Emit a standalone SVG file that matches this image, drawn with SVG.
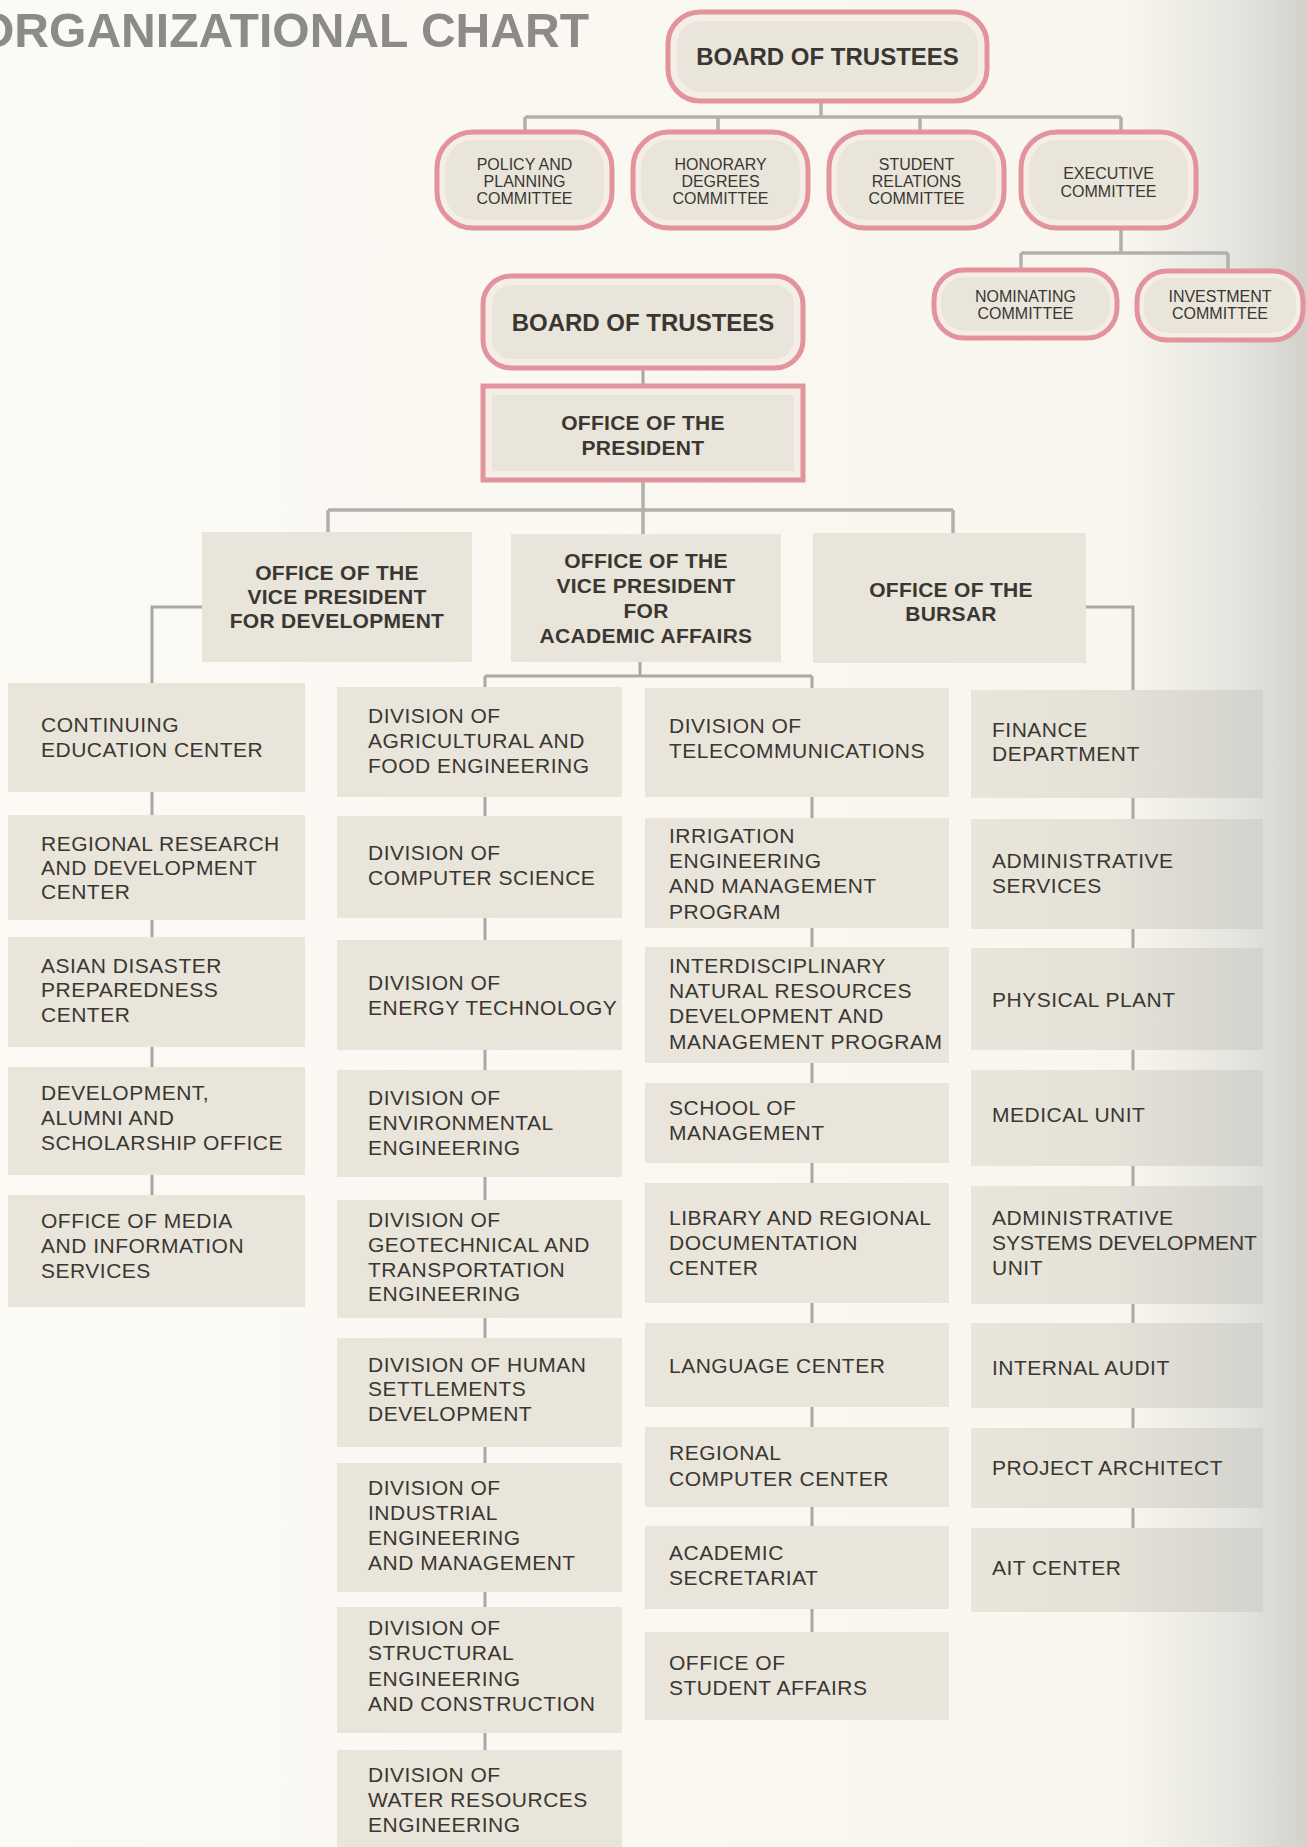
<svg xmlns="http://www.w3.org/2000/svg" width="1307" height="1847" viewBox="0 0 1307 1847">
<defs>
<style>
.bg{fill:url(#bgGrad)}
.box{fill:#e9e5da}
.box4{fill:url(#col4Grad)}
.pkOut{fill:#f5eee8;stroke:#e3939b;stroke-width:5}
.pkIn{fill:#e9e5da}
.ln{stroke:#a9a8a4;stroke-width:3;fill:none}
.lnT{stroke:#b2b0ab;stroke-width:3.5;fill:none}
.t{font-family:"Liberation Sans",Arial,Helvetica,sans-serif;font-size:21px;letter-spacing:0.5px;fill:#3a3733}
.tb{font-family:"Liberation Sans",Arial,Helvetica,sans-serif;font-size:21px;letter-spacing:0.3px;font-weight:bold;fill:#3a3733;text-anchor:middle}
.tbig{font-family:"Liberation Sans",Arial,Helvetica,sans-serif;font-size:24px;font-weight:bold;fill:#3a3733;text-anchor:middle}
.tc{font-family:"Liberation Sans",Arial,Helvetica,sans-serif;font-size:16px;fill:#3a3733;text-anchor:middle}
.title{font-family:"Liberation Sans",Arial,Helvetica,sans-serif;font-size:48px;font-weight:bold;fill:#8c8b88}
</style>
<linearGradient id="bgGrad" x1="0" y1="0" x2="1" y2="0">
<stop offset="0" stop-color="#fcfaf4"/>
<stop offset="0.86" stop-color="#f8f6ef"/>
<stop offset="0.95" stop-color="#e4e3dd"/>
<stop offset="1" stop-color="#d2d1cc"/>
</linearGradient>
<linearGradient id="col4Grad" x1="0" y1="0" x2="1" y2="0">
<stop offset="0" stop-color="#e9e5da"/>
<stop offset="0.5" stop-color="#e4e1d7"/>
<stop offset="1" stop-color="#d3d2cd"/>
</linearGradient>
</defs>

<rect class="bg" x="0" y="0" width="1307" height="1847"/>

<text class="title" x="-23" y="47" textLength="612" lengthAdjust="spacingAndGlyphs">ORGANIZATIONAL CHART</text>

<g id="connectors">
<path class="lnT" d="M821 101 V117 M525 117 H1121 M525 117 V132 M718 117 V132 M920 117 V132 M1121 117 V132"/>
<path class="lnT" d="M1121 228 V253 M1021 253 H1228 M1021 253 V270 M1228 253 V271"/>
<path class="ln" d="M643 368 V386"/>
<path class="lnT" d="M643 480 V534 M328 510 H953 M328 510 V532 M953 510 V533"/>
<path class="ln" d="M202 607 H152 V1195"/>
<path class="ln" d="M640 662 V676 M485 676 H812 M485 676 V1750 M812 676 V1632"/>
<path class="ln" d="M1086 607 H1133 V1528"/>
</g>

<g id="n-board-top">
<rect class="pkOut" x="668" y="12" width="319" height="89" rx="32"/>
<rect class="pkIn" x="677" y="21" width="301" height="71" rx="24"/>
<text class="tbig" x="827.5" y="65">BOARD OF TRUSTEES</text>
</g>

<g id="n-policy">
<rect class="pkOut" x="437" y="132" width="175" height="96" rx="36"/>
<rect class="pkIn" x="445" y="140" width="159" height="80" rx="28"/>
<text class="tc" x="524.5" y="170">POLICY AND</text>
<text class="tc" x="524.5" y="187">PLANNING</text>
<text class="tc" x="524.5" y="204">COMMITTEE</text>
</g>

<g id="n-honorary">
<rect class="pkOut" x="633" y="132" width="175" height="96" rx="36"/>
<rect class="pkIn" x="641" y="140" width="159" height="80" rx="28"/>
<text class="tc" x="720.5" y="170">HONORARY</text>
<text class="tc" x="720.5" y="187">DEGREES</text>
<text class="tc" x="720.5" y="204">COMMITTEE</text>
</g>

<g id="n-student-rel">
<rect class="pkOut" x="829" y="132" width="175" height="96" rx="36"/>
<rect class="pkIn" x="837" y="140" width="159" height="80" rx="28"/>
<text class="tc" x="916.5" y="170">STUDENT</text>
<text class="tc" x="916.5" y="187">RELATIONS</text>
<text class="tc" x="916.5" y="204">COMMITTEE</text>
</g>

<g id="n-executive">
<rect class="pkOut" x="1021" y="132" width="175" height="96" rx="36"/>
<rect class="pkIn" x="1029" y="140" width="159" height="80" rx="28"/>
<text class="tc" x="1108.5" y="179">EXECUTIVE</text>
<text class="tc" x="1108.5" y="197">COMMITTEE</text>
</g>

<g id="n-nominating">
<rect class="pkOut" x="934" y="270" width="183" height="68" rx="30"/>
<rect class="pkIn" x="941" y="277" width="169" height="54" rx="24"/>
<text class="tc" x="1025.5" y="302">NOMINATING</text>
<text class="tc" x="1025.5" y="319">COMMITTEE</text>
</g>

<g id="n-investment">
<rect class="pkOut" x="1137" y="271" width="166" height="69" rx="30"/>
<rect class="pkIn" x="1144" y="278" width="152" height="55" rx="24"/>
<text class="tc" x="1220" y="302">INVESTMENT</text>
<text class="tc" x="1220" y="319">COMMITTEE</text>
</g>

<g id="n-board">
<rect class="pkOut" x="483" y="276" width="320" height="92" rx="28"/>
<rect class="pkIn" x="492" y="285" width="302" height="74" rx="20"/>
<text class="tbig" x="643" y="331">BOARD OF TRUSTEES</text>
</g>

<g id="n-president">
<rect class="pkOut" x="483" y="386" width="320" height="94"/>
<rect class="pkIn" x="492" y="395" width="302" height="76"/>
<text class="tb" x="643" y="430">OFFICE OF THE</text>
<text class="tb" x="643" y="455">PRESIDENT</text>
</g>

<g id="n-vp-dev">
<rect class="box" x="202" y="532" width="270" height="130"/>
<text class="tb" x="337" y="580">OFFICE OF THE</text>
<text class="tb" x="337" y="604">VICE PRESIDENT</text>
<text class="tb" x="337" y="628">FOR DEVELOPMENT</text>
</g>

<g id="n-vp-acad">
<rect class="box" x="511" y="534" width="270" height="128"/>
<text class="tb" x="646" y="568">OFFICE OF THE</text>
<text class="tb" x="646" y="593">VICE PRESIDENT</text>
<text class="tb" x="646" y="618">FOR</text>
<text class="tb" x="646" y="643">ACADEMIC AFFAIRS</text>
</g>

<g id="n-bursar">
<rect class="box" x="813" y="533" width="273" height="130"/>
<text class="tb" x="951" y="597">OFFICE OF THE</text>
<text class="tb" x="951" y="621">BURSAR</text>
</g>

<g id="n-continuing">
<rect class="box" x="8" y="683" width="297" height="109"/>
<text class="t" x="41" y="732">CONTINUING</text>
<text class="t" x="41" y="757">EDUCATION CENTER</text>
</g>
<g id="n-regional-research">
<rect class="box" x="8" y="815" width="297" height="105"/>
<text class="t" x="41" y="851">REGIONAL RESEARCH</text>
<text class="t" x="41" y="875">AND DEVELOPMENT</text>
<text class="t" x="41" y="899">CENTER</text>
</g>
<g id="n-asian-disaster">
<rect class="box" x="8" y="937" width="297" height="110"/>
<text class="t" x="41" y="973">ASIAN DISASTER</text>
<text class="t" x="41" y="997">PREPAREDNESS</text>
<text class="t" x="41" y="1022">CENTER</text>
</g>
<g id="n-development-alumni">
<rect class="box" x="8" y="1067" width="297" height="108"/>
<text class="t" x="41" y="1100">DEVELOPMENT,</text>
<text class="t" x="41" y="1125">ALUMNI AND</text>
<text class="t" x="41" y="1150">SCHOLARSHIP OFFICE</text>
</g>
<g id="n-media">
<rect class="box" x="8" y="1195" width="297" height="112"/>
<text class="t" x="41" y="1228">OFFICE OF MEDIA</text>
<text class="t" x="41" y="1253">AND INFORMATION</text>
<text class="t" x="41" y="1278">SERVICES</text>
</g>

<g id="n-agri">
<rect class="box" x="337" y="687" width="285" height="110"/>
<text class="t" x="368" y="723">DIVISION OF</text>
<text class="t" x="368" y="748">AGRICULTURAL AND</text>
<text class="t" x="368" y="773">FOOD ENGINEERING</text>
</g>
<g id="n-computer-science">
<rect class="box" x="337" y="816" width="285" height="102"/>
<text class="t" x="368" y="860">DIVISION OF</text>
<text class="t" x="368" y="885">COMPUTER SCIENCE</text>
</g>
<g id="n-energy">
<rect class="box" x="337" y="940" width="285" height="110"/>
<text class="t" x="368" y="990">DIVISION OF</text>
<text class="t" x="368" y="1015">ENERGY TECHNOLOGY</text>
</g>
<g id="n-environmental">
<rect class="box" x="337" y="1070" width="285" height="107"/>
<text class="t" x="368" y="1105">DIVISION OF</text>
<text class="t" x="368" y="1130">ENVIRONMENTAL</text>
<text class="t" x="368" y="1155">ENGINEERING</text>
</g>
<g id="n-geotechnical">
<rect class="box" x="337" y="1200" width="285" height="118"/>
<text class="t" x="368" y="1227">DIVISION OF</text>
<text class="t" x="368" y="1252">GEOTECHNICAL AND</text>
<text class="t" x="368" y="1277">TRANSPORTATION</text>
<text class="t" x="368" y="1301">ENGINEERING</text>
</g>
<g id="n-human-settlements">
<rect class="box" x="337" y="1338" width="285" height="109"/>
<text class="t" x="368" y="1372">DIVISION OF HUMAN</text>
<text class="t" x="368" y="1396">SETTLEMENTS</text>
<text class="t" x="368" y="1421">DEVELOPMENT</text>
</g>
<g id="n-industrial">
<rect class="box" x="337" y="1463" width="285" height="129"/>
<text class="t" x="368" y="1495">DIVISION OF</text>
<text class="t" x="368" y="1520">INDUSTRIAL</text>
<text class="t" x="368" y="1545">ENGINEERING</text>
<text class="t" x="368" y="1570">AND MANAGEMENT</text>
</g>
<g id="n-structural">
<rect class="box" x="337" y="1607" width="285" height="126"/>
<text class="t" x="368" y="1635">DIVISION OF</text>
<text class="t" x="368" y="1660">STRUCTURAL</text>
<text class="t" x="368" y="1686">ENGINEERING</text>
<text class="t" x="368" y="1711">AND CONSTRUCTION</text>
</g>
<g id="n-water">
<rect class="box" x="337" y="1750" width="285" height="97"/>
<text class="t" x="368" y="1782">DIVISION OF</text>
<text class="t" x="368" y="1807">WATER RESOURCES</text>
<text class="t" x="368" y="1832">ENGINEERING</text>
</g>

<g id="n-telecom">
<rect class="box" x="645" y="688" width="304" height="109"/>
<text class="t" x="669" y="733">DIVISION OF</text>
<text class="t" x="669" y="758">TELECOMMUNICATIONS</text>
</g>
<g id="n-irrigation">
<rect class="box" x="645" y="818" width="304" height="110"/>
<text class="t" x="669" y="843">IRRIGATION</text>
<text class="t" x="669" y="868">ENGINEERING</text>
<text class="t" x="669" y="893">AND MANAGEMENT</text>
<text class="t" x="669" y="919">PROGRAM</text>
</g>
<g id="n-interdisciplinary">
<rect class="box" x="645" y="947" width="304" height="116"/>
<text class="t" x="669" y="973">INTERDISCIPLINARY</text>
<text class="t" x="669" y="998">NATURAL RESOURCES</text>
<text class="t" x="669" y="1023">DEVELOPMENT AND</text>
<text class="t" x="669" y="1049">MANAGEMENT PROGRAM</text>
</g>
<g id="n-school-management">
<rect class="box" x="645" y="1083" width="304" height="80"/>
<text class="t" x="669" y="1115">SCHOOL OF</text>
<text class="t" x="669" y="1140">MANAGEMENT</text>
</g>
<g id="n-library">
<rect class="box" x="645" y="1183" width="304" height="120"/>
<text class="t" x="669" y="1225">LIBRARY AND REGIONAL</text>
<text class="t" x="669" y="1250">DOCUMENTATION</text>
<text class="t" x="669" y="1275">CENTER</text>
</g>
<g id="n-language">
<rect class="box" x="645" y="1323" width="304" height="84"/>
<text class="t" x="669" y="1373">LANGUAGE CENTER</text>
</g>
<g id="n-regional-computer">
<rect class="box" x="645" y="1427" width="304" height="80"/>
<text class="t" x="669" y="1460">REGIONAL</text>
<text class="t" x="669" y="1486">COMPUTER CENTER</text>
</g>
<g id="n-academic-secretariat">
<rect class="box" x="645" y="1526" width="304" height="83"/>
<text class="t" x="669" y="1560">ACADEMIC</text>
<text class="t" x="669" y="1585">SECRETARIAT</text>
</g>
<g id="n-student-affairs">
<rect class="box" x="645" y="1632" width="304" height="88"/>
<text class="t" x="669" y="1670">OFFICE OF</text>
<text class="t" x="669" y="1695">STUDENT AFFAIRS</text>
</g>

<g id="n-finance">
<rect class="box4" x="971" y="690" width="292" height="108"/>
<text class="t" x="992" y="737">FINANCE</text>
<text class="t" x="992" y="761">DEPARTMENT</text>
</g>
<g id="n-admin-services">
<rect class="box4" x="971" y="819" width="292" height="110"/>
<text class="t" x="992" y="868">ADMINISTRATIVE</text>
<text class="t" x="992" y="893">SERVICES</text>
</g>
<g id="n-physical-plant">
<rect class="box4" x="971" y="948" width="292" height="102"/>
<text class="t" x="992" y="1007">PHYSICAL PLANT</text>
</g>
<g id="n-medical">
<rect class="box4" x="971" y="1070" width="292" height="96"/>
<text class="t" x="992" y="1122">MEDICAL UNIT</text>
</g>
<g id="n-admin-systems">
<rect class="box4" x="971" y="1186" width="292" height="118"/>
<text class="t" x="992" y="1225">ADMINISTRATIVE</text>
<text class="t" x="992" y="1250" style="letter-spacing:0">SYSTEMS DEVELOPMENT</text>
<text class="t" x="992" y="1275">UNIT</text>
</g>
<g id="n-internal-audit">
<rect class="box4" x="971" y="1323" width="292" height="85"/>
<text class="t" x="992" y="1375">INTERNAL AUDIT</text>
</g>
<g id="n-project-architect">
<rect class="box4" x="971" y="1428" width="292" height="80"/>
<text class="t" x="992" y="1475">PROJECT ARCHITECT</text>
</g>
<g id="n-ait-center">
<rect class="box4" x="971" y="1528" width="292" height="84"/>
<text class="t" x="992" y="1575">AIT CENTER</text>
</g>
</svg>
